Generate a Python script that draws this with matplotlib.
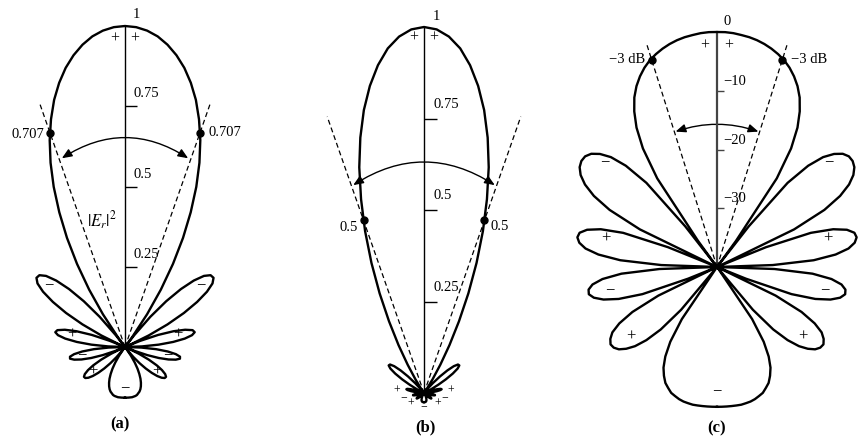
import numpy as np
import matplotlib
matplotlib.use("Agg")
import matplotlib.pyplot as plt
from matplotlib.patches import FancyArrowPatch

# pattern angles (deg from the axis), half pattern, mirrored below
angles = [0, 2, 4, 6, 8, 10, 12, 14, 16, 18, 20, 22, 24, 26, 28, 30, 32, 34, 36, 36.87,
          38, 40, 42, 44, 46, 48, 50, 52, 54, 56, 58, 60, 62, 64, 66, 66.42,
          68, 70, 72, 74, 76, 78, 80, 82, 84, 86, 88, 90, 92, 94, 96, 98, 100, 102, 104,
          106, 108, 110, 112, 113.58, 114, 116, 118, 120, 122, 124, 126, 128, 130, 132,
          134, 136, 138, 140, 142, 143.13, 144, 146, 148, 150, 152, 154, 156, 158, 160,
          162, 164, 166, 168, 170, 172, 174, 176, 178, 180]

# (a) normalized field |E| ; (b) is its square
field = [1.000, 0.997, 0.988, 0.973, 0.951, 0.923, 0.889, 0.848, 0.801, 0.746,
         0.686, 0.619, 0.546, 0.467, 0.385, 0.299, 0.211, 0.123, 0.037, 0.000,
         0.046, 0.123, 0.192, 0.251, 0.298, 0.331, 0.348, 0.350, 0.337, 0.308,
         0.265, 0.212, 0.150, 0.082, 0.014, 0.000, 0.051, 0.110, 0.159, 0.195,
         0.217, 0.222, 0.212, 0.188, 0.151, 0.105, 0.053, 0.000, 0.051, 0.097,
         0.134, 0.160, 0.174, 0.175, 0.163, 0.141, 0.111, 0.074, 0.033, 0.000,
         0.009, 0.048, 0.084, 0.114, 0.136, 0.151, 0.158, 0.157, 0.149, 0.135,
         0.116, 0.093, 0.068, 0.041, 0.015, 0.000, 0.011, 0.035, 0.058, 0.078,
         0.095, 0.110, 0.122, 0.132, 0.140, 0.146, 0.150, 0.154, 0.156, 0.157,
         0.158, 0.158, 0.158, 0.158, 0.158]

# (c) power pattern in dB
power_db = [0.0, -0.0, -0.1, -0.3, -0.5, -0.8, -1.2, -1.7, -2.3, -3.0, -3.9, -5.0, -6.3, -7.9,
            -10.0, -12.6, -16.2, -21.8, -34.5, -40.0, -31.2, -21.3, -16.8, -14.0, -12.3, -11.2,
            -10.7, -10.7, -11.1, -12.0, -13.5, -15.8, -19.3, -25.4, -40.0, -40.0, -31.0, -23.0,
            -19.2, -17.0, -15.9, -15.7, -16.2, -17.4, -19.7, -23.5, -30.5, -40.0, -30.2, -23.7,
            -20.4, -18.6, -17.8, -17.7, -18.4, -19.9, -22.4, -26.5, -34.7, -40.0, -40.0, -28.9,
            -23.7, -20.8, -19.0, -18.1, -17.6, -17.7, -18.2, -19.2, -20.6, -22.7, -25.7, -30.5,
            -40.0, -40.0, -39.5, -29.3, -25.0, -22.4, -20.6, -19.4, -18.4, -17.8, -17.2, -16.9,
            -16.6, -16.4, -16.3, -16.2, -16.2, -16.2, -16.2, -16.2, -16.2]

lin_ticks = [0.25, 0.5, 0.75]
lin_labels = ["0.25", "0.5", "0.75"]
db_ticks = [-30, -20, -10]
db_labels = ["\u221230", "\u221220", "\u221210"]

half_power_a = 19.3
half_power_c = 17.5

# lobe signs: angle, radius, text
signs_a_ang = [50.8, 77.2, 100.5, 128, 180]
signs_a_r = [0.305, 0.169, 0.136, 0.126, 0.128]
signs_a_txt = ["\u2212", "+", "\u2212", "+", "\u2212"]
signs_b_ang = [84.5, 103, 129, 180]
signs_b_r = [0.074, 0.058, 0.047, 0.037]
signs_b_txt = ["+", "\u2212", "+", "\u2212"]
signs_c_ang = [46.8, 75.8, 102, 129, 180]
signs_c_db = [-13.9, -20.5, -21.3, -21.1, -18.9]
signs_c_txt = ["\u2212", "+", "\u2212", "+", "\u2212"]

plt.rcParams['font.family'] = ['Liberation Serif', 'DejaVu Serif']
plt.rcParams['mathtext.fontset'] = 'stix'
W, H = 858, 436
fig = plt.figure(figsize=(W/100, H/100), dpi=100)

tick_marker = [(0, 0), (1, 0)]


def polar_ax(cx, cy, R):
    ax = fig.add_axes([(cx-R)/W, (H-cy-R)/H, 2*R/W, 2*R/H], projection='polar')
    ax.set_theta_zero_location('N')
    ax.set_theta_direction(-1)
    ax.axis('off')
    return ax


def mirror(vals):
    v = np.asarray(vals, float)
    return np.concatenate([v[::-1], v[1:]])


full_th = np.radians(mirror(angles) * np.r_[-np.ones(len(angles)), np.ones(len(angles)-1)])


def draw_panel(ax, r, rmin, rmax, ticks, tlabels, tick_ms, lab_off, top_lab, top_off,
               plus_off, hp_ang, hp_r, dash_r, dot_labels, dot_offs, arc_ang, arc_r, arc_rad,
               s_ang, s_r, s_txt, s_size, axis_kw):
    ax.set_ylim(rmin, rmax)
    ax.plot(full_th, r, color='k', lw=1.7, clip_on=False, zorder=3)
    ax.plot([0, 0], [rmin, rmax], clip_on=False, **axis_kw)
    ax.plot(np.zeros(len(ticks)), ticks, ls='none', marker=tick_marker, ms=tick_ms,
            mec=axis_kw['color'], mew=1.0, clip_on=False)
    for t, lab in zip(ticks, tlabels):
        ax.annotate(lab, (0, t), xytext=lab_off, textcoords='offset pixels',
                    ha='left', va='baseline', fontsize=10.5, annotation_clip=False)
    ax.annotate(top_lab, (0, rmax), xytext=top_off, textcoords='offset pixels',
                ha='center', va='center', fontsize=10.5, annotation_clip=False)
    for sx in (-1, 1):
        ax.annotate("+", (0, rmax), xytext=(sx*plus_off[0], plus_off[1]),
                    textcoords='offset pixels', ha='center', va='center', fontsize=11.5,
                    annotation_clip=False)
        t = np.radians(sx*hp_ang)
        ax.plot([0, t], [rmin, dash_r], color='k', lw=0.9, ls=(0, (4, 2.5)), clip_on=False)
        ax.plot([t], [hp_r], 'o', color='k', ms=5, clip_on=False, zorder=4)
        off = dot_offs[0] if sx < 0 else dot_offs[1]
        ax.annotate(dot_labels, (t, hp_r), xytext=off, textcoords='offset pixels',
                    ha='right' if sx < 0 else 'left', va='center', fontsize=10.5,
                    annotation_clip=False)
    arr = FancyArrowPatch((np.radians(-arc_ang), arc_r), (np.radians(arc_ang), arc_r),
                          connectionstyle=f"arc3,rad={arc_rad}",
                          arrowstyle="<|-|>,head_length=0.6,head_width=0.25",
                          mutation_scale=10, lw=1.0, color='k', shrinkA=0, shrinkB=0,
                          transform=ax.transData, clip_on=False)
    ax.add_patch(arr)
    for a_, r_, s_ in zip(s_ang, s_r, s_txt):
        for sx in ((-1, 1) if a_ < 180 else (1,)):
            ax.text(np.radians(sx*a_), r_, s_, ha='center', va='center', fontsize=s_size,
                    clip_on=False)


line_kw = dict(color='k', lw=1.0)

ax_a = polar_ax(125, 347, 321)
draw_panel(ax_a, mirror(field), 0, 1, lin_ticks, lin_labels, 17, (8, 9), "1", (11, 12),
           (10, -13), half_power_a, 0.707, 0.80, "0.707", [(-6, -2), (8, 0)],
           18.5, 0.62, -0.32, signs_a_ang, signs_a_r, signs_a_txt, 12, line_kw)
ax_a.text(np.radians(-10.3), 0.40, r"$|E_r|^2$", ha='center', va='center', fontsize=12)

ax_b = polar_ax(424, 393, 366)
draw_panel(ax_b, mirror(field)**2, 0, 1, lin_ticks, lin_labels, 18, (9, 11), "1", (12, 11),
           (10, -11), half_power_a, 0.5, 0.80, "0.5", [(-6, -7), (6, -6)],
           18.8, 0.60, -0.32, signs_b_ang, signs_b_r, signs_b_txt, 8.5, line_kw)

ax_c = polar_ax(717, 267, 235)
draw_panel(ax_c, mirror(power_db), -40, 0, db_ticks, db_labels, 10, (6, 6), "0", (10, 11),
           (12, -14), half_power_c, -3, -0.3, "\u22123 dB", [(-6, 0), (9, 0)],
           17, -15.9, -0.17, signs_c_ang, signs_c_db, signs_c_txt, 12,
           dict(color='#444444', lw=1.6))

for lab, x, y in [("(a)", 120, 424), ("(b)", 425, 427), ("(c)", 717, 428)]:
    fig.text(x/W, 1 - y/H, lab, ha='center', va='center', fontsize=12, fontweight='bold')

fig.savefig("out.png", dpi=100)
